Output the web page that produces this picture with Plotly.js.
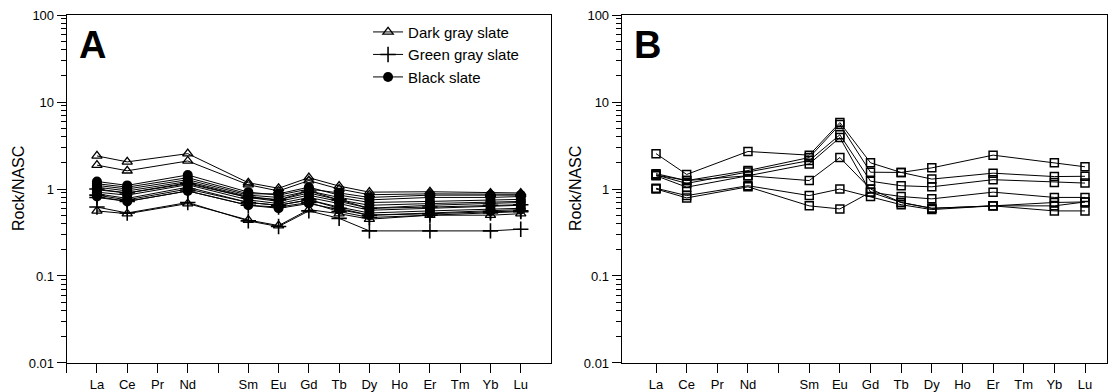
<!DOCTYPE html>
<html>
<head>
<meta charset="utf-8">
<script src="https://cdn.plot.ly/plotly-3.0.1.min.js"></script>
<style>html,body{margin:0;padding:0;background:#fff;}#chart{width:1117px;height:392px;}</style>
</head>
<body>
<div id="chart"></div>
<script>
// Element order on the x axis (Pm has no label)
const elements = ['La','Ce','Pr','Nd','Pm','Sm','Eu','Gd','Tb','Dy','Ho','Er','Tm','Yb','Lu'];
const tickLabels = ['La','Ce','Pr','Nd','','Sm','Eu','Gd','Tb','Dy','Ho','Er','Tm','Yb','Lu'];
// Elements actually analysed
const measured = ['La','Ce','Nd','Sm','Eu','Gd','Tb','Dy','Er','Yb','Lu'];

// Panel A: Rock/NASC values (La, Ce, Nd, Sm, Eu, Gd, Tb, Dy, Er, Yb, Lu)
const darkGray1 = [2.40, 2.05, 2.55, 1.18, 1.02, 1.35, 1.08, 0.92, 0.93, 0.90, 0.90];
const darkGray2 = [1.88, 1.62, 2.10, 1.12, 0.95, 1.25, 1.00, 0.86, 0.88, 0.87, 0.87];
const darkGray3 = [0.56, 0.52, 0.68, 0.44, 0.38, 0.58, 0.52, 0.45, 0.50, 0.50, 0.52];

const greenGray1 = [0.62, 0.53, 0.70, 0.43, 0.37, 0.56, 0.46, 0.33, 0.33, 0.33, 0.345];
const greenGray2 = [0.85, 0.75, 1.00, 0.70, 0.65, 0.75, 0.60, 0.50, 0.52, 0.55, 0.56];
const greenGray3 = [1.00, 0.90, 1.15, 0.80, 0.75, 0.95, 0.75, 0.60, 0.62, 0.65, 0.66];
const greenGray4 = [0.80, 0.72, 0.95, 0.65, 0.62, 0.70, 0.55, 0.47, 0.50, 0.53, 0.55];

const black1 = [1.22, 1.10, 1.45, 0.92, 0.85, 1.00, 0.90, 0.80, 0.85, 0.85, 0.85];
const black2 = [1.15, 1.05, 1.35, 0.88, 0.88, 1.05, 0.85, 0.75, 0.80, 0.80, 0.82];
const black3 = [1.10, 1.00, 1.28, 0.85, 0.80, 0.95, 0.80, 0.70, 0.72, 0.74, 0.76];
const black4 = [1.05, 0.95, 1.22, 0.82, 0.75, 0.90, 0.75, 0.65, 0.68, 0.70, 0.72];
const black5 = [0.98, 0.90, 1.18, 0.80, 0.72, 0.85, 0.72, 0.60, 0.65, 0.68, 0.70];
const black6 = [0.92, 0.85, 1.12, 0.75, 0.68, 0.80, 0.68, 0.57, 0.60, 0.63, 0.65];
const black7 = [0.88, 0.78, 1.05, 0.70, 0.65, 0.75, 0.62, 0.53, 0.56, 0.58, 0.60];
const black8 = [0.82, 0.72, 0.95, 0.65, 0.60, 0.68, 0.58, 0.50, 0.53, 0.56, 0.58];

// Panel B
const panelB1 = [2.55, 1.47, 2.70, 2.45, 5.80, 2.00, 1.55, 1.75, 2.45, 2.00, 1.80];
const panelB2 = [1.50, 1.25, 1.63, 2.30, 5.50, 1.56, 1.55, 1.30, 1.52, 1.39, 1.40];
const panelB3 = [1.45, 1.16, 1.57, 2.12, 4.20, 1.23, 1.09, 1.06, 1.28, 1.19, 1.17];
const panelB4 = [1.42, 1.05, 1.42, 1.94, 3.90, 0.92, 0.82, 0.77, 0.92, 0.80, 0.80];
const panelB5 = [1.45, 1.25, 1.42, 1.25, 2.30, 1.00, 0.70, 0.60, 0.64, 0.70, 0.71];
const panelB6 = [1.02, 0.84, 1.09, 0.84, 1.00, 0.82, 0.66, 0.58, 0.64, 0.56, 0.56];
const panelB7 = [1.00, 0.79, 1.06, 0.64, 0.59, 0.92, 0.70, 0.60, 0.64, 0.64, 0.71];

const xPos = measured.map(e => elements.indexOf(e) + 1);
const FONT = 'Liberation Sans, Arial, sans-serif';

const groups = [
  {name: 'Dark gray slate', data: [darkGray1, darkGray2, darkGray3],
   marker: {symbol: 'triangle-up-open', size: 9, color: '#000', line: {width: 1.3, color: '#000'}}},
  {name: 'Green gray slate', data: [greenGray1, greenGray2, greenGray3, greenGray4],
   marker: {symbol: 'cross-thin', size: 11, color: '#000', line: {width: 1.6, color: '#000'}}},
  {name: 'Black slate', data: [black1, black2, black3, black4, black5, black6, black7, black8],
   marker: {symbol: 'circle', size: 10, color: '#000', line: {width: 0}}}
];

const traces = [];
groups.forEach(g => {
  g.data.forEach((vals, i) => {
    traces.push({
      type: 'scatter', mode: 'lines+markers', x: xPos, y: vals,
      xaxis: 'x', yaxis: 'y', name: g.name, legendgroup: g.name,
      showlegend: i === 0, line: {color: '#000', width: 1}, marker: g.marker,
      hoverinfo: 'skip'
    });
  });
});
[panelB1, panelB2, panelB3, panelB4, panelB5, panelB6, panelB7].forEach(vals => {
  traces.push({
    type: 'scatter', mode: 'lines+markers', x: xPos, y: vals,
    xaxis: 'x2', yaxis: 'y2', showlegend: false,
    line: {color: '#000', width: 1},
    marker: {symbol: 'square-open', size: 8, color: '#000', line: {width: 1.5, color: '#000'}},
    hoverinfo: 'skip'
  });
});

const minorVals = [];
[0.01, 0.1, 1, 10].forEach(d => { for (let k = 2; k <= 9; k++) minorVals.push(d * k); });

function yAxis() {
  return {
    type: 'log', range: [-2, 2], domain: [0.0740, 0.9617],
    tickvals: [0.01, 0.1, 1, 10, 100], ticktext: ['0.01', '0.1', '1', '10', '100'],
    ticks: 'outside', ticklen: 9, tickwidth: 1, tickcolor: '#000',
    minor: {tickvals: minorVals, ticks: 'outside', ticklen: 5, tickwidth: 1, tickcolor: '#000'},
    showline: true, linecolor: '#000', linewidth: 1, mirror: true,
    showgrid: false, zeroline: false,
    tickfont: {family: FONT, size: 13, color: '#000'},
    automargin: false
  };
}
function xAxis(domain, range, vals) {
  return {
    domain: domain, range: range,
    tickvals: vals, ticktext: vals.map(v => v === 0 ? '' : tickLabels[v - 1]),
    ticks: 'outside', ticklen: 9, tickwidth: 1, tickcolor: '#000',
    showline: true, linecolor: '#000', linewidth: 1, mirror: true,
    showgrid: false, zeroline: false,
    tickfont: {family: FONT, size: 13, color: '#000'},
    automargin: false
  };
}
const ticksA = [0,1,2,3,4,5,6,7,8,9,10,11,12,13,14,15];
const ticksB = [1,2,3,4,5,6,7,8,9,10,11,12,13,14,15];

const layout = {
  width: 1117, height: 392,
  margin: {l: 0, r: 0, t: 0, b: 0},
  paper_bgcolor: '#fff', plot_bgcolor: '#fff',
  xaxis: xAxis([0.0597, 0.4933], [0, 16], ticksA),
  yaxis: Object.assign(yAxis(), {anchor: 'x'}),
  xaxis2: Object.assign(xAxis([0.5566, 0.9911], [-0.12, 15.72], ticksB), {anchor: 'y2'}),
  yaxis2: Object.assign(yAxis(), {anchor: 'x2'}),
  showlegend: true,
  legend: {
    x: 0.3295, y: 0.960, xanchor: 'left', yanchor: 'top',
    bgcolor: 'rgba(0,0,0,0)', borderwidth: 0,
    font: {family: FONT, size: 15, color: '#000'},
    tracegroupgap: 0, itemwidth: 30
  },
  annotations: [
    {text: 'A', xref: 'paper', yref: 'paper', x: 77/1117, y: 1 - 22/392, xanchor: 'left', yanchor: 'top',
     showarrow: false, font: {family: FONT, size: 38, color: '#000', weight: 'bold'}},
    {text: 'B', xref: 'paper', yref: 'paper', x: 632/1117, y: 1 - 22/392, xanchor: 'left', yanchor: 'top',
     showarrow: false, font: {family: FONT, size: 38, color: '#000', weight: 'bold'}},
    {text: 'Rock/NASC', xref: 'paper', yref: 'paper', x: 18/1117, y: 1 - 189/392, xanchor: 'center', yanchor: 'middle',
     textangle: -90, showarrow: false, font: {family: FONT, size: 16, color: '#000'}},
    {text: 'Rock/NASC', xref: 'paper', yref: 'paper', x: 575/1117, y: 1 - 189/392, xanchor: 'center', yanchor: 'middle',
     textangle: -90, showarrow: false, font: {family: FONT, size: 16, color: '#000'}}
  ]
};

Plotly.newPlot('chart', traces, layout, {staticPlot: true, displayModeBar: false});
</script>
</body>
</html>
